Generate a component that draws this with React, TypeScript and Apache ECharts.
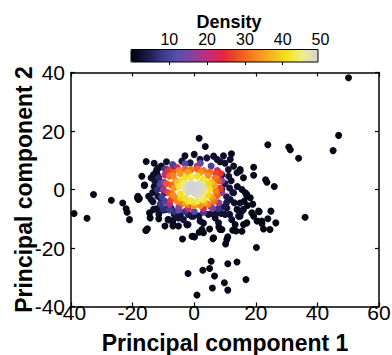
import React, { useEffect, useRef } from "react";
import * as echarts from "echarts";

// Sparse / outlying points: [pc1, pc2, density]
const sparsePts: number[][] = [
  [50.1, 38.2, 1], [1.6, 17.5, 1], [3.6, 14.7, 1], [23.9, 15.3, 1], [30.7, 14.5, 1], [31.2, 13.6, 1],
  [33.9, 10.7, 1], [46.9, 18.5, 1], [45.1, 13.3, 1], [-15.6, 9.6, 1], [12.1, 12.2, 1], [19.3, 7.6, 1],
  [19.3, 4.9, 1], [23.2, 3.3, 1], [23.6, 2.5, 1], [26, 1.0, 1], [-16.2, 1.4, 1], [-32.7, -1.7, 1],
  [-39, -8.2, 1], [-34.8, -9.8, 1], [-26.9, -3.7, 1], [-23.2, -4.6, 1], [-22.1, -6.6, 1], [-21.8, -7.8, 1],
  [-21, -10.3, 1], [-18.4, -2.9, 1], [-18.1, -3.4, 1], [-15.7, -14, 1], [-15.2, -13.4, 1], [-3.8, -16.9, 1],
  [-0.5, -16, 1], [0.1, -16.2, 1], [1.6, -14.6, 1], [6.1, -16.8, 1], [9, -13.7, 1], [10.2, -18.6, 1],
  [10.9, -16.2, 1], [12.5, -13.9, 1], [13.6, -14.2, 1], [20.2, -19.8, 1], [21.9, -10.8, 1], [23.9, -10, 1],
  [24.6, -13.7, 1], [22.5, -13.5, 1], [26.5, -11.4, 1], [36, -9.5, 1], [24.9, -7.4, 1], [21.1, -7.6, 1],
  [-2, -28.7, 1], [2.8, -27.6, 1], [5, -27, 1], [5.5, -24.5, 1], [6.6, -29.6, 1], [5.9, -33.7, 1],
  [0.9, -36.1, 1], [9.8, -31.9, 1], [10.9, -34.4, 1], [10.9, -25.4, 1], [13.9, -24.8, 1], [16.8, -30.8, 1],
  [14.9, 6.3, 1], [15.5, 0, 1], [16.6, -1.1, 1], [17.1, -2.3, 1], [18.2, -2.8, 1], [16.2, -4, 1],
  [17.3, -5.5, 1], [15.5, -7.4, 1], [14.9, -9.1, 1], [18.7, -8, 1], [19.3, -9.1, 1], [20.9, -7.4, 1],
  [20.4, -10.8, 1], [22, -11.7, 1], [-16.1, 1.5, 1], [-18.3, -2.3, 1], [-17.8, -3.1, 1], [-14.5, -8, 1],
  [-14.3, -9.7, 1], [-15.6, -13.9, 1], [-6.9, -12.5, 1], [-5.1, -12.5, 1], [-2.4, -12, 1], [2.5, -13.7, 1],
  [3, -14.8, 1], [-0.7, -16, 1], [8.4, -13.7, 1], [6.3, -16.5, 1], [10.6, -17.1, 1], [13.3, -12, 1],
  [15.5, -14.3, 1], [17.1, -11.4, 1], [16, 4, 1], [14.9, 6.8, 1], [17.1, -1.7, 1], [-9.5, -12.5, 1],
  [-11.5, -10, 1], [5, -13.5, 1], [8, -12.8, 1], [16, -12, 1], [19, -5, 1], [-17, 4.5, 1],
];

// Points surrounding the dense core
const nearCorePts: number[][] = [
  [-11.5, 7.4, 2], [-10.7, 8, 2], [-12.3, 6.3, 2], [-12, 5.1, 2], [-14.8, -2.3, 2], [-14, -3.4, 2],
  [-13.4, -4.2, 2], [-8.5, -10.3, 2], [-6.9, -10.6, 2], [-13.2, -6.8, 2], [-8.3, -10.3, 2], [-6.9, -11.7, 2],
  [-3.5, -10.3, 3], [-0.2, -9.1, 3], [1.9, -10.8, 2], [4.6, -8.5, 3], [6.8, -9.7, 2], [7.9, -11.4, 2],
  [12.2, -10.3, 2], [14.4, -9.1, 2], [16, -6.8, 2], [-5.1, -9.7, 3], [-0.9, -9.1, 3], [7.4, -8, 3],
  [10.6, -6.3, 3], [13.9, -6.8, 2], [14.9, -4.6, 2], [11.7, -3.4, 3], [12.8, -1.1, 3], [9, 0, 4],
  [11.7, 10.3, 2], [12.8, 8, 2], [11.1, 6.8, 3], [13.9, 5.7, 2], [7.4, 10.3, 3], [6.3, 11.4, 2],
  [4.1, 10.8, 3], [1.9, 10.3, 3], [-1.3, 9.1, 4], [-4, 9.7, 3], [-6.7, 8, 4], [-8.9, 6.8, 3],
  [-12.1, 6.8, 2], [-13.2, 5.1, 2], [-11.3, 2.8, 3], [-10.7, 1.7, 4], [-10.2, 0, 4], [-9.6, -1.1, 4],
  [-11.8, -2.3, 3], [-10.7, -3.4, 4], [-8.5, -4.6, 5], [-7.5, -6.3, 5], [-9.1, -6.8, 4], [12, 3, 2],
  [14, 1, 2], [12.5, -1, 2], [13, -4.5, 2], [10, -8.5, 3], [3, -11.5, 2], [-2, -12, 2], [-10, -7, 3],
  [-12, -6.5, 2], [-13, 1, 2], [-14, 4, 2], [-13, 9, 2], [-9, 9.5, 2], [8.4, 9.5, 2], [10, 9, 2],
  [-4.5, -8.8, 3], [-2, -8.5, 4], [1.5, -9, 3], [5.8, -8.2, 3], [8.8, -8.2, 3], [11.5, -8.5, 2],
  [-6.5, -8.5, 3], [-11.5, -8.5, 2], [-3, 11.5, 2], [0, 12, 2], [9.5, 11.5, 2], [11.2, 4.5, 3],
  [11.5, 0.5, 3], [10.5, -4.5, 4], [-13.5, -1, 2], [-12.8, 2.8, 3],
  [9, 5, 4], [10, 2, 4], [10.5, -2.5, 4], [9.5, -6, 4],
];

// Coloured edge of the core
const edgePts: number[][] = [
  [-11, 2, 10], [-10.5, -2.5, 9], [-11, -5, 8], [-9.5, 7, 9], [-7, 8.5, 10], [-3, 8.8, 11],
  [2, 9, 12], [5.5, 8, 10], [6, -6.5, 12],
  [-5, -7, 12], [-8, -7, 9], [0, -7.5, 11], [-12, 0, 7], [-11.5, 4, 6], [-3, -7.5, 8], [3, -7.8, 9],
  [-9.5, -4, 10], [-10, -6.5, 7], [7.8, -6.5, 8], [-6.5, -7.5, 7],
  [-9.5, 5, 20], [-10, 0, 18], [7.5, 6.5, 22], [9, -1, 18], [8, -4.5, 17], [-8, -5, 19],
  [-2, -6.5, 21], [3, -6.5, 22], [-5.5, 7.5, 21], [1, 8, 19], [-9.8, 2.5, 16], [9, 3, 16],
  [5.5, -6, 18], [-5, -6, 16],
];

// Dense core: orange, yellow and light grey
const corePts: number[][] = [
  [-9, 2, 28], [-8.5, -1, 27], [-8, 4.5, 30], [-7, 6, 28], [-6, -3, 31], [-7.5, -3.5, 26],
  [-5, 6.5, 32], [-3, 7, 30], [-1, 6.8, 31], [1, 7, 29], [3, 6.5, 31], [5, 6, 30], [7, 5.5, 27],
  [8, 3, 28], [8.5, 0.5, 26], [7.5, -2, 29], [6.5, -4, 30], [4.5, -5, 32], [2, -5.5, 33],
  [0, -5.5, 33], [-2, -5.2, 31], [-4, -4.8, 30], [-6.5, 0.5, 34], [6.5, 1.5, 35], [-6, 3, 33],
  [5.5, -2.5, 35], [-7.5, 1.5, 30], [-7.5, -1.5, 29], [-6.8, 4.8, 32], [-4.5, 5.5, 34], [-2, 5.8, 35],
  [2, 5.8, 34], [4.5, 4.8, 33], [6.8, 3.8, 31], [7, -0.5, 32], [6, -3, 33], [3.5, -4.5, 35],
  [-3, -4.5, 35], [-5.5, -4, 32], [-6.8, -2, 33], [8.5, 5.5, 25], [-8.5, 6.5, 25],
  [-5, 1, 42], [-4.5, -1.5, 41], [-4, 3, 40], [-3, 4, 41], [-1, 4.3, 42], [1, 4.5, 41], [3, 3.5, 42],
  [4.5, 2, 40], [5, 0, 41], [4.5, -2, 40], [3, -3.5, 42], [1, -4, 43], [-1, -3.8, 42], [-3, -3, 41],
  [-4.5, -2.8, 39], [2.5, -2.5, 44], [-3.5, 2, 44], [3.5, -0.5, 44], [-5.5, 2.5, 38], [5.5, 2.5, 38],
  [0, -4.5, 39], [-2, -4, 40],
  [-3, 0.5, 47], [-2, 1.8, 48], [-2, -1, 48], [-1, 0, 49], [0, 1.5, 49], [0, -1.2, 49], [1, 0.3, 49],
  [1.5, 2, 48], [2, -1, 48], [3, 0.8, 47], [-1, 2.2, 48], [1, -1.8, 47], [-2.5, -0.3, 47], [0.5, 0.8, 49],
  [-1.5, 0.8, 49], [2.5, 1.2, 48],
];

const cbTicks = [10, 20, 30, 40, 50];
const cbTickMarks = [10, 20, 30, 40];
const cmap = [
  "#000006", "#1a1848", "#3a3888", "#5a50a8", "#8a40a0", "#c8287a", "#e82838",
  "#f05a1e", "#f58a1e", "#f8b41e", "#f5e21a", "#eeee90", "#d4d4d4",
];

const FONT = "Liberation Sans, Arial, sans-serif";

export default function App() {
  const ref = useRef<HTMLDivElement>(null);
  useEffect(() => {
    if (!ref.current) return;
    const chart = echarts.init(ref.current, undefined, { renderer: "svg" });
    const data = [...sparsePts, ...nearCorePts, ...edgePts, ...corePts].sort((a, b) => a[2] - b[2]);
    const axisCommon = {
      type: "value" as const,
      axisLine: { show: true, onZero: false, lineStyle: { color: "#000", width: 1.5 } },
      axisTick: { show: true, inside: true, length: 4, lineStyle: { color: "#000", width: 1.2 } },
      splitLine: { show: false },
    };
    chart.setOption({
      animation: false,
      textStyle: { fontFamily: FONT },
      title: {
        text: "Density",
        left: 224,
        top: 8,
        textAlign: "center",
        textStyle: { fontFamily: FONT, fontWeight: "bold", fontSize: 18, color: "#000" },
      },
      grid: [
        { left: 71, top: 72.5, width: 308, height: 234, outerBoundsMode: "none", containLabel: false },
        { left: 131.5, top: 49.5, width: 189, height: 12.5, outerBoundsMode: "none", containLabel: false },
      ],
      xAxis: [
        {
          ...axisCommon,
          gridIndex: 0,
          min: -40,
          max: 60,
          interval: 20,
          position: "bottom",
          name: "Principal component 1",
          nameLocation: "middle",
          nameGap: 25,
          nameMoveOverlap: false,
          nameTextStyle: { fontFamily: FONT, fontWeight: "bold", fontSize: 23, color: "#000" },
          axisLabel: { fontFamily: FONT, fontSize: 21, color: "#000", margin: -5 },
        },
        {
          ...axisCommon,
          gridIndex: 0,
          min: -40,
          max: 60,
          interval: 20,
          position: "top",
          axisLabel: { show: false },
        },
        {
          type: "value",
          gridIndex: 1,
          min: 0,
          max: 50,
          interval: 10,
          position: "top",
          axisLine: { show: false },
          splitLine: { show: false },
          axisTick: {
            show: true,
            inside: true,
            length: 3,
            customValues: cbTickMarks,
            lineStyle: { color: "#000", width: 1 },
          },
          axisLabel: {
            customValues: cbTicks,
            fontFamily: FONT,
            fontSize: 16,
            color: "#000",
            margin: 2,
            formatter: (v: number) => (v === 0 ? "" : String(v)),
          },
        },
      ],
      yAxis: [
        {
          ...axisCommon,
          gridIndex: 0,
          min: -40,
          max: 40,
          interval: 20,
          position: "left",
          name: "Principal component 2",
          nameLocation: "middle",
          nameGap: 36,
          nameMoveOverlap: false,
          nameTextStyle: { fontFamily: FONT, fontWeight: "bold", fontSize: 23, color: "#000" },
          axisLabel: { fontFamily: FONT, fontSize: 21, color: "#000", margin: 6 },
        },
        {
          ...axisCommon,
          gridIndex: 0,
          min: -40,
          max: 40,
          interval: 20,
          position: "right",
          axisLabel: { show: false },
        },
        {
          type: "value",
          gridIndex: 1,
          min: 0,
          max: 1,
          show: false,
        },
      ],
      visualMap: {
        type: "continuous",
        orient: "horizontal",
        min: 0,
        max: 49,
        dimension: 2,
        seriesIndex: 0,
        left: 131,
        top: 49.5,
        itemWidth: 12.5,
        itemHeight: 187,
        padding: 0,
        calculable: false,
        hoverLink: false,
        inRange: { color: cmap },
      },
      graphic: [
        {
          type: "rect",
          z: 100,
          shape: { x: 131, y: 49.5, width: 187, height: 12.5 },
          style: { fill: "none", stroke: "#000", lineWidth: 1 },
        },
      ],
      series: [
        {
          type: "scatter",
          xAxisIndex: 0,
          yAxisIndex: 0,
          symbolSize: 7,
          data,
          itemStyle: { opacity: 1 },
        },
      ],
    });
    return () => chart.dispose();
  }, []);
  return <div ref={ref} style={{ width: 392, height: 355, position: "absolute", left: 0, top: 0 }} />;
}
